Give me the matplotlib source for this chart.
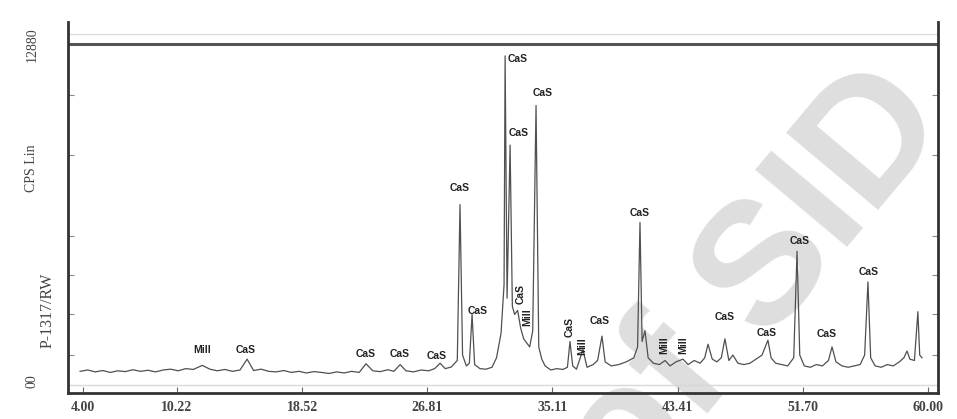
import matplotlib.pyplot as plt

# XRD pattern, 2-theta (deg) vs counts
two_theta = [3.8, 4.3, 4.8, 5.3, 5.8, 6.3, 6.8, 7.3, 7.8, 8.3, 8.8, 9.3, 9.8, 10.3, 10.8, 11.3,
             11.9, 12.4, 12.9, 13.4, 13.9, 14.4, 14.87, 15.3, 15.8, 16.3, 16.8, 17.3, 17.8, 18.3,
             18.8, 19.3, 19.8, 20.3, 20.8, 21.3, 21.8, 22.3, 22.75, 23.2, 23.7, 24.2, 24.6, 25.01,
             25.4, 25.9, 26.4, 26.9, 27.3, 27.66, 28.0, 28.4, 28.8, 28.98, 29.15, 29.4, 29.6, 29.78,
             29.95, 30.3, 30.7, 31.1, 31.4, 31.7, 31.9, 31.97, 32.1, 32.3, 32.45, 32.6, 32.8, 33.0,
             33.2, 33.4, 33.6, 33.8, 34.02, 34.2, 34.4, 34.62, 35.0, 35.4, 35.8, 36.1, 36.27, 36.45,
             36.7, 37.13, 37.4, 37.8, 38.1, 38.39, 38.6, 39.0, 39.5, 40.0, 40.5, 40.75, 40.91, 41.05,
             41.24, 41.45, 41.8, 42.2, 42.57, 42.9, 43.3, 43.76, 44.1, 44.5, 44.9, 45.2, 45.42, 45.7,
             46.0, 46.3, 46.54, 46.8, 47.07, 47.4, 47.8, 48.2, 48.6, 49.0, 49.39, 49.6, 49.9, 50.3,
             50.7, 51.1, 51.32, 51.5, 51.8, 52.2, 52.6, 53.0, 53.4, 53.64, 53.9, 54.3, 54.7, 55.1,
             55.5, 55.8, 56.02, 56.2, 56.5, 56.9, 57.3, 57.7, 58.1, 58.4, 58.61, 58.8, 59.1, 59.33,
             59.45, 59.6]
counts = [800, 850, 780, 830, 760, 820, 790, 860, 800, 840, 780, 850, 880, 820, 900, 870,
          1020, 880, 820, 870, 800, 850, 1250, 830, 880, 800, 780, 830, 760, 800,
          740, 790, 760, 720, 780, 740, 800, 760, 1080, 820, 790, 860, 800, 1050,
          820, 780, 850, 820, 900, 1100, 900, 960, 1200, 6952, 1400, 1000, 1100, 2900,
          1050, 900, 880, 950, 1300, 2200, 4000, 12441, 3500, 9148, 3200, 2900, 3050, 2400,
          2000, 1850, 1700, 2300, 10611, 1700, 1250, 1000, 850, 900, 870, 950, 1900, 1000,
          880, 1600, 950, 1050, 1200, 2100, 1150, 1000, 1050, 1150, 1300, 1700, 6294, 1900,
          2300, 1300, 1100, 1050, 1200, 1000, 1150, 1250, 1050, 1200, 1100, 1300, 1800, 1250,
          1150, 1300, 2000, 1200, 1400, 1100, 1050, 1100, 1250, 1400, 1950, 1300, 1100, 1050,
          1000, 1300, 5232, 1400, 1000, 950, 1050, 1000, 1200, 1700, 1150, 1000, 950, 1000,
          1050, 1400, 4098, 1300, 1000, 950, 1050, 1000, 1150, 1300, 1550, 1250, 1200, 3000,
          1400, 1300]

# phase labels: text, 2-theta, counts, rotation
lbl_text = ["Mill", "CaS", "CaS", "CaS", "CaS", "CaS", "CaS", "CaS", "CaS", "CaS",
            "CaS", "Mill", "CaS", "Mill", "CaS", "CaS", "Mill", "Mill", "CaS", "CaS",
            "CaS", "CaS", "CaS"]
lbl_x = [11.89, 14.74, 22.75, 25.01, 27.46, 28.98, 30.18, 32.83, 32.89, 34.48,
         33.0, 33.42, 36.27, 37.07, 38.26, 40.91, 42.5, 43.8, 46.54, 49.33,
         51.5, 53.3, 56.09]
lbl_y = [1574, 1574, 1427, 1427, 1354, 7576, 3038, 12333, 9590, 11053,
         3660, 2818, 2452, 1720, 2672, 6661, 1757, 1757, 2818, 2233,
         5600, 2196, 4465]
lbl_rot = [0, 0, 0, 0, 0, 0, 0, 0, 0, 0,
           90, 90, 90, 90, 0, 0, 90, 90, 0, 0,
           0, 0, 0]

tick_pos = [4.00, 10.22, 18.52, 26.81, 35.11, 43.41, 51.70, 60.00]
tick_lbl = ["4.00", "10.22", "18.52", "26.81", "35.11", "43.41", "51.70", "60.00"]

fig = plt.figure(figsize=(9.57, 4.19), dpi=100)
ax = fig.add_axes([0.0711, 0.062, 0.909, 0.8854])
ax.patch.set_visible(False)

ax.plot(two_theta, counts, color="#505050", lw=0.9)

for t, x, y, r in zip(lbl_text, lbl_x, lbl_y, lbl_rot):
    ax.text(x, y, t, rotation=r, ha="center", va="center", fontsize=7.5,
            fontweight="bold", family="Liberation Sans", color="#222222")

# top double line and faint line above the base
ax.axhline(12880, color="#555555", lw=2.2)
ax.axhline(13250, color="#dddddd", lw=1)
ax.axhline(300, color="#d8d8d8", lw=1)

ax.set_xlim(3.0, 60.66)
ax.set_ylim(0, 13690)
ax.set_xticks(tick_pos)
ax.set_xticklabels(tick_lbl, family="Liberation Serif", fontsize=10, fontweight="bold",
                   color="#444444")
ax.set_yticks([1400, 2900, 4350, 5800, 8800, 11000])
ax.set_yticklabels([])
ax.tick_params(axis="x", direction="in", length=4, pad=6, color="#666666")
ax.tick_params(axis="y", direction="in", length=4, left=True, right=True, color="#888888")
ax.spines["top"].set_visible(False)
for s in ["left", "right", "bottom"]:
    ax.spines[s].set_linewidth(2)
    ax.spines[s].set_color("#333333")

side = dict(rotation=90, ha="center", va="center", family="Liberation Serif",
            fontsize=10, color="#444444")
fig.text(0.0334, 0.893, "12880", **side)
fig.text(0.0334, 0.599, "CPS Lin", **side)
fig.text(0.050, 0.260, "P-1317/RW", fontsize=11.5,
         **{k: v for k, v in side.items() if k != "fontsize"})
fig.text(0.0334, 0.091, "00", **side)

# watermark, behind the pattern
fig.text(0.79, 0.32, "of SID", rotation=50, ha="center", va="center", fontsize=125,
         fontweight="bold", family="Liberation Sans", color="#dedede", zorder=-1)

fig.savefig("out.png", dpi=100)
